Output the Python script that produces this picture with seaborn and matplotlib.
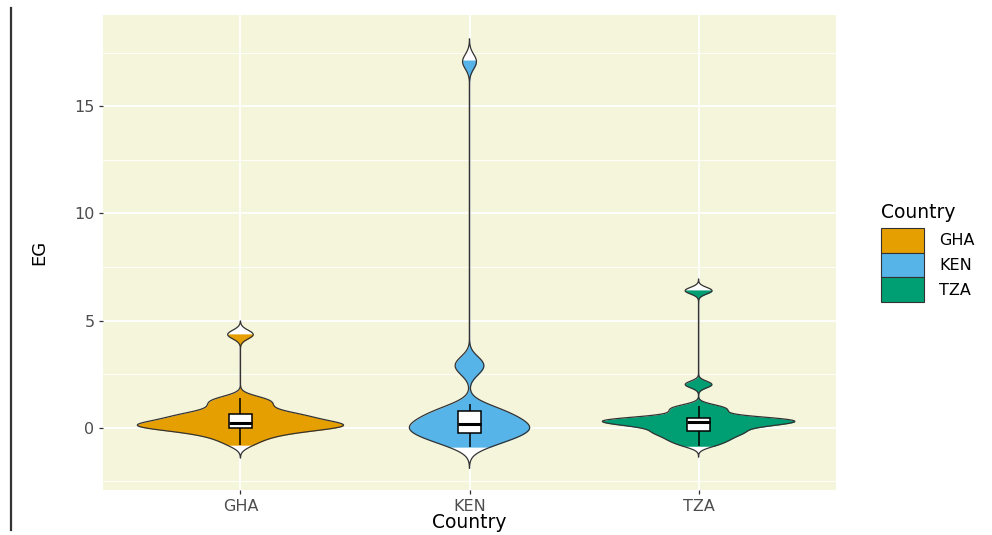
import numpy as np
import pandas as pd
import matplotlib
matplotlib.use("Agg")
import matplotlib.pyplot as plt
from matplotlib.patches import Patch
from matplotlib.lines import Line2D
import seaborn as sns

# ---- data -------------------------------------------------------------
countries = ["GHA", "KEN", "TZA"]

eg_gha = [-0.81, -0.62, -0.48, -0.38, -0.30, -0.22, -0.16, -0.10, -0.06, -0.03,
          -0.01, 0.03, 0.07, 0.09, 0.11, 0.12, 0.13, 0.14, 0.16, 0.19,
          0.22, 0.27, 0.32, 0.37, 0.42, 0.47, 0.51, 0.55, 0.59, 0.62,
          0.64, 0.72, 0.82, 0.95, 1.05, 1.15, 1.25, 1.32, 1.39,
          4.32, 4.38]

eg_ken = [-0.90, -0.80, -0.70, -0.62, -0.55, -0.48, -0.42, -0.36, -0.31, -0.27,
          -0.23, -0.18, -0.13, -0.08, -0.04, 0.00, 0.04, 0.08, 0.12, 0.16,
          0.19, 0.25, 0.31, 0.37, 0.43, 0.49, 0.55, 0.61, 0.67, 0.73,
          0.78, 0.88, 0.98, 1.10, 2.55, 2.75, 2.90, 3.05, 3.20,
          17.00, 17.15]

eg_tza = [-0.86, -0.74, -0.64, -0.56, -0.48, -0.41, -0.34, -0.27, -0.21, -0.18,
          -0.15, -0.08, -0.01, 0.06, 0.12, 0.15, 0.16, 0.17, 0.18, 0.20,
          0.28, 0.30, 0.32, 0.34, 0.36, 0.38, 0.40, 0.41, 0.42, 0.43,
          0.44, 0.60, 0.70, 0.80, 0.88, 0.95, 1.02,
          1.98, 2.06, 6.36, 6.43]

y_ticks = [0, 5, 10, 15]

# ---- styling ----------------------------------------------------------
fill_colors = {"GHA": "#E69F00", "KEN": "#56B4E9", "TZA": "#009E73"}
bandwidth = {"GHA": 0.20, "KEN": 0.33, "TZA": 0.15}      # KDE bandwidth in EG units
tail_cut = {"GHA": 3.0, "KEN": 3.0, "TZA": 3.4}          # tail length in bandwidths
violin_width = {"GHA": 0.90, "KEN": 0.525, "TZA": 0.84}   # max violin width
panel_bg = "#F5F5DC"
outline = "#333333"

plt.rcParams["font.family"] = ["DejaVu Sans"]

df = pd.DataFrame({
    "Country": ["GHA"] * len(eg_gha) + ["KEN"] * len(eg_ken) + ["TZA"] * len(eg_tza),
    "EG": eg_gha + eg_ken + eg_tza,
})

W, H = 992, 535
fig = plt.figure(figsize=(W / 100, H / 100), dpi=100)
ax = fig.add_axes([103 / W, 1 - 490 / H, (836 - 103) / W, (490 - 15) / H])
ax.set_facecolor(panel_bg)

for c in countries:
    sub = df[df["Country"] == c]
    factor = bandwidth[c] / sub["EG"].std(ddof=1)
    common = dict(data=sub, x="Country", y="EG", order=countries,
                  bw_method=factor, density_norm="width", width=violin_width[c],
                  gridsize=2000, inner=None, saturation=1, ax=ax)
    # full density (tails beyond the data) in white
    sns.violinplot(**common, cut=tail_cut[c], color="white", linewidth=0)
    # density over the observed range in the country colour
    sns.violinplot(**common, cut=0, color=fill_colors[c], linewidth=0)
    # outline of the full density
    sns.violinplot(**common, cut=tail_cut[c], fill=False, color=outline, linewidth=0.9)

sns.boxplot(data=df, x="Country", y="EG", order=countries, width=0.1,
            color="white", saturation=1, linecolor="black", linewidth=1.1,
            showfliers=False, ax=ax,
            medianprops={"linewidth": 2.2}, capprops={"linewidth": 0})

# ---- axes -------------------------------------------------------------
ax.set_xlim(-0.6, 2.6)
ax.set_ylim(-2.9, 19.25)
ax.set_yticks(y_ticks)
ax.set_yticks([-2.5, 2.5, 7.5, 12.5, 17.5], minor=True)
ax.set_xticks(range(len(countries)))
ax.set_xticklabels(countries)
ax.set_axisbelow(True)
ax.grid(which="major", color="white", linewidth=1.2)
ax.grid(which="minor", axis="y", color="white", linewidth=0.6)
for s in ax.spines.values():
    s.set_visible(False)
ax.tick_params(which="major", length=3.2, width=0.9, color=outline,
               labelcolor="#4D4D4D", labelsize=11.5, pad=3)
ax.tick_params(which="minor", length=0)

ax.set_xlabel("Country", fontsize=13.5, color="black")
ax.set_ylabel("EG", fontsize=13, color="black")
ax.xaxis.set_label_coords(0.5, -0.048)
ax.yaxis.set_label_coords(-0.075, 0.5)

# ---- legend -----------------------------------------------------------
leg_fs = 11.5
fig.text(881 / W, 1 - 212 / H, "Country", fontsize=13.5, va="center", ha="left")
handles = [Patch(facecolor=fill_colors[c], edgecolor=outline, linewidth=0.8)
           for c in countries]
fig.legend(handles, countries, loc="upper left",
           bbox_to_anchor=(881 / W, 1 - 228 / H), frameon=False,
           fontsize=leg_fs, handlelength=2.7, handleheight=2.0,
           handletextpad=0.95, labelspacing=0.0,
           borderpad=0, borderaxespad=0)

# vertical rule at the left edge
fig.add_artist(Line2D([11 / W, 11 / W], [1 - 8 / H, 1 - 530 / H],
                      transform=fig.transFigure, color=outline, linewidth=1.6))

fig.savefig("out.png", dpi=100)
